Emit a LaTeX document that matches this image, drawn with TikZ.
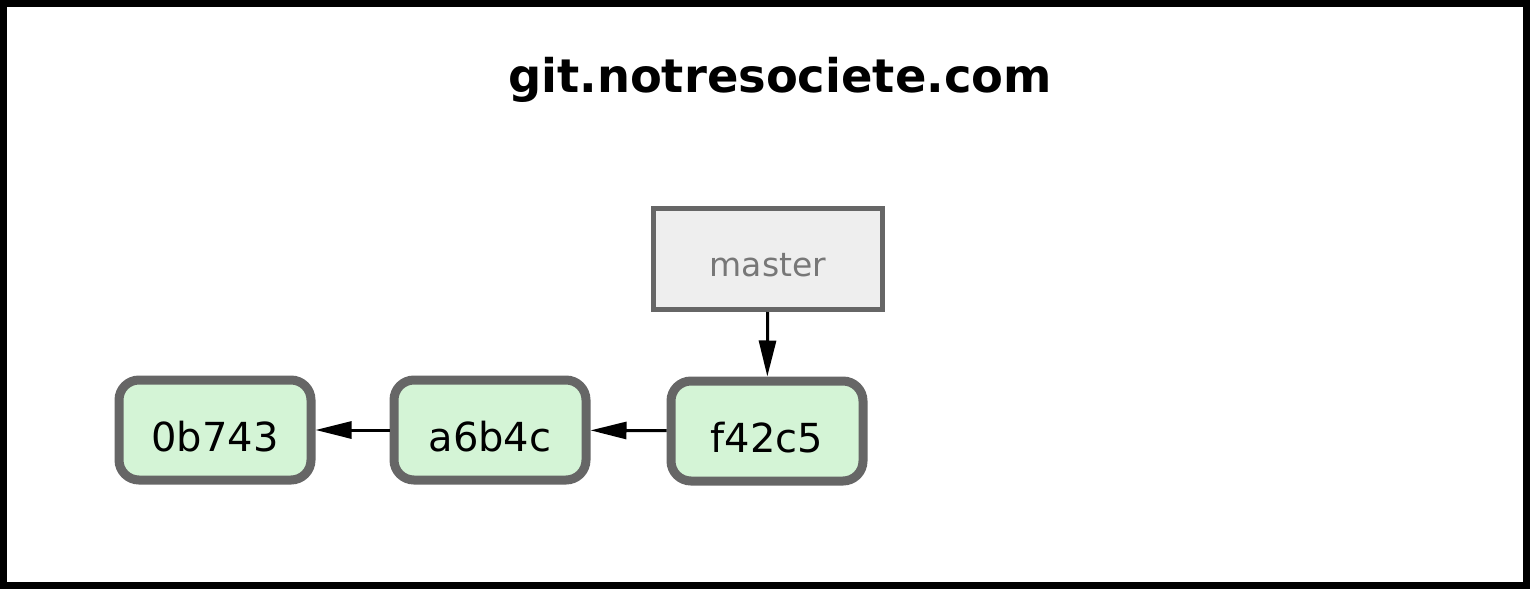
\documentclass[tikz,border=0pt]{standalone}
\usepackage{fontspec}
\setmainfont{DejaVu Sans}
\usepackage{tikz}
\usetikzlibrary{arrows.meta,positioning}
\definecolor{commitfill}{HTML}{D4F4D6}
\definecolor{boxgray}{HTML}{666666}
\definecolor{branchfill}{HTML}{EEEEEE}
\definecolor{branchtext}{HTML}{777777}
\tikzset{commit/.style={rectangle,rounded corners=10pt,draw=boxgray,fill=commitfill,line width=4.5pt,
    minimum width=96pt,minimum height=50pt,inner sep=0pt,text height=21pt,text depth=0pt,
    font=\fontsize{20}{24}\selectfont}}
\tikzset{branch/.style={rectangle,draw=boxgray,fill=branchfill,line width=2.5pt,
    minimum width=114.5pt,minimum height=50.5pt,inner sep=0pt,text height=17.8pt,text depth=0pt,
    text=branchtext,font=\fontsize{16.5}{20}\selectfont}}
\begin{document}
\begin{tikzpicture}[x=0.5pt,y=-0.5pt,>={Triangle[length=18pt,width=8.5pt]}]
\useasboundingbox (0,0) rectangle (1530,589);
% \draw[help lines] (0,0) grid (1530,589);
\draw[line width=3.5pt] (3.5,3.5) rectangle (1526.5,585.5);
\node (server) at (780,80) {\fontsize{23.2}{28}\selectfont\bfseries git.notresociete.com};
%
\node (c0) [commit] at (215,430) {0b743};
\node (c1) [commit] at (490,430) {a6b4c};
\node (c2) [commit] at (767,431) {f42c5};
\node (master) [branch] at (768,259) {master};
%
\path[->,line width=1.5pt](c2) edge (c1);
\path[->,line width=1.5pt](c1) edge (c0);
\path[->,line width=1.5pt](master) edge (c2);
\end{tikzpicture}
\end{document}
